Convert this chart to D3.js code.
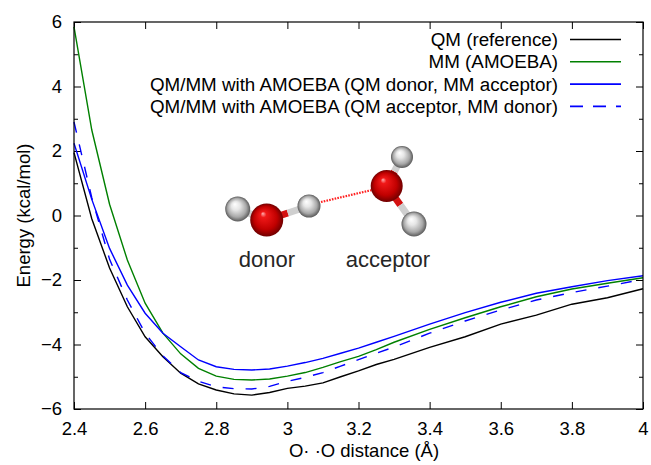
<!DOCTYPE html>
<html>
<head>
<meta charset="utf-8">
<script src="https://cdn.jsdelivr.net/npm/d3@7"></script>
<style>
  body { margin: 0; background: #fff; }
  text { font-family: "Liberation Sans", Arial, sans-serif; }
</style>
</head>
<body>
<svg id="chart" width="651" height="465"></svg>
<script>
// O..O distance (Angstrom)
let distance = [2.4, 2.45, 2.5, 2.55, 2.6, 2.65, 2.7, 2.75, 2.8, 2.85, 2.9, 2.95, 3.0, 3.05,
  3.1, 3.15, 3.2, 3.25, 3.3, 3.4, 3.5, 3.6, 3.7, 3.8, 3.9, 4.0];

// energies (kcal/mol)
let qmRef = [1.95, -0.1, -1.63, -2.83, -3.76, -4.38, -4.89, -5.22, -5.41, -5.53, -5.57, -5.49, -5.36, -5.29,
  -5.19, -5.0, -4.82, -4.62, -4.46, -4.09, -3.76, -3.37, -3.09, -2.75, -2.55, -2.27];
let mmAmoeba = [5.85, 2.65, 0.35, -1.38, -2.72, -3.65, -4.29, -4.74, -4.98, -5.08, -5.10, -5.07, -4.98, -4.87,
  -4.71, -4.53, -4.37, -4.16, -3.93, -3.53, -3.17, -2.83, -2.52, -2.28, -2.10, -1.93];
let qmDonor = [2.24, 0.5, -1.02, -2.16, -3.03, -3.65, -4.07, -4.48, -4.69, -4.77, -4.79, -4.76, -4.67, -4.56,
  -4.43, -4.27, -4.11, -3.93, -3.75, -3.37, -3.01, -2.69, -2.41, -2.21, -2.02, -1.87];
let qmAcceptor = [2.9, 0.55, -1.36, -2.62, -3.65, -4.35, -4.87, -5.14, -5.31, -5.37, -5.38, -5.30, -5.14, -5.02,
  -4.87, -4.67, -4.47, -4.27, -4.08, -3.65, -3.27, -2.93, -2.62, -2.39, -2.19, -1.98];

let seriesNames = ["QM (reference)", "MM (AMOEBA)",
  "QM/MM with AMOEBA (QM donor, MM acceptor)", "QM/MM with AMOEBA (QM acceptor, MM donor)"];
let seriesColors = ["#000000", "#008000", "#0000ff", "#0000ff"];
let seriesDash = [null, null, null, "11,12"];

let xTicks = [2.4, 2.6, 2.8, 3.0, 3.2, 3.4, 3.6, 3.8, 4.0];
let xTickLabels = ["2.4", "2.6", "2.8", "3", "3.2", "3.4", "3.6", "3.8", "4"];
let yTicks = [-6, -4, -2, 0, 2, 4, 6];
let yTickLabels = ["\u22126", "\u22124", "\u22122", "0", "2", "4", "6"];
let yMinorTicks = [-5, -3, -1, 1, 3, 5];

let svg = d3.select("#chart");
let plotLeft = 74, plotRight = 643, plotTop = 22, plotBottom = 409;

let x = d3.scaleLinear().domain([2.4, 4.0]).range([plotLeft, plotRight]);
let y = d3.scaleLinear().domain([-6, 6]).range([plotBottom, plotTop]);

// axes, ticks pointing inward on all four sides
function styleAxis(g) {
  g.select(".domain").remove();
  g.selectAll("line").attr("stroke", "#000").attr("stroke-width", 1);
  g.selectAll("text").attr("font-size", "18.5px").attr("fill", "#000")
    .style("font-family", "'Liberation Sans', Arial, sans-serif");
}

svg.append("g").attr("transform", `translate(0,${plotBottom})`)
  .call(d3.axisBottom(x).tickValues(xTicks).tickFormat((d, i) => xTickLabels[i]).tickSize(-7).tickPadding(12.5))
  .call(styleAxis);
svg.append("g").attr("transform", `translate(0,${plotTop})`)
  .call(d3.axisTop(x).tickValues(xTicks).tickFormat("").tickSize(-7))
  .call(styleAxis);
svg.append("g").attr("transform", `translate(${plotLeft},0)`)
  .call(d3.axisLeft(y).tickValues(yTicks).tickFormat((d, i) => yTickLabels[i]).tickSize(-7).tickPadding(12))
  .call(styleAxis);
svg.append("g").attr("transform", `translate(${plotLeft},0)`)
  .call(d3.axisLeft(y).tickValues(yMinorTicks).tickFormat("").tickSize(-4))
  .call(styleAxis);
svg.append("g").attr("transform", `translate(${plotRight},0)`)
  .call(d3.axisRight(y).tickValues(yTicks).tickFormat("").tickSize(-7))
  .call(styleAxis);
svg.append("g").attr("transform", `translate(${plotRight},0)`)
  .call(d3.axisRight(y).tickValues(yMinorTicks).tickFormat("").tickSize(-4))
  .call(styleAxis);

// axis labels
svg.append("text")
  .attr("x", 364).attr("y", 457)
  .attr("text-anchor", "middle").attr("font-size", "18.5px")
  .text("O\u00b7 \u00b7O distance (\u00c5)");
svg.append("text")
  .attr("transform", "translate(30,215.5) rotate(-90)")
  .attr("text-anchor", "middle").attr("font-size", "18.5px")
  .text("Energy (kcal/mol)");

// water dimer picture
let defs = svg.append("defs");
let redGrad = defs.append("radialGradient").attr("id", "oxy").attr("cx", "0.5").attr("cy", "0.5").attr("r", "0.5")
  .attr("fx", "0.38").attr("fy", "0.3");
redGrad.append("stop").attr("offset", "0%").attr("stop-color", "#ffb0b0");
redGrad.append("stop").attr("offset", "18%").attr("stop-color", "#f01818");
redGrad.append("stop").attr("offset", "70%").attr("stop-color", "#c00000");
redGrad.append("stop").attr("offset", "100%").attr("stop-color", "#700000");
let whiteGrad = defs.append("radialGradient").attr("id", "hyd").attr("cx", "0.5").attr("cy", "0.5").attr("r", "0.5")
  .attr("fx", "0.38").attr("fy", "0.3");
whiteGrad.append("stop").attr("offset", "0%").attr("stop-color", "#ffffff");
whiteGrad.append("stop").attr("offset", "35%").attr("stop-color", "#e6e6e6");
whiteGrad.append("stop").attr("offset", "75%").attr("stop-color", "#a8a8a8");
whiteGrad.append("stop").attr("offset", "100%").attr("stop-color", "#5a5a5a");

let atoms = [
  { name: "Hd1", x: 237.7, y: 209, r: 12.5, fill: "url(#hyd)" },
  { name: "Od", x: 266.7, y: 220, r: 16.5, fill: "url(#oxy)" },
  { name: "Hd2", x: 309, y: 206, r: 11.5, fill: "url(#hyd)" },
  { name: "Ha1", x: 402, y: 157, r: 11, fill: "url(#hyd)" },
  { name: "Ha2", x: 414, y: 224, r: 12.5, fill: "url(#hyd)" },
  { name: "Oa", x: 386.7, y: 186, r: 16, fill: "url(#oxy)" }
];
let atom = {};
atoms.forEach(a => atom[a.name] = a);
let bonds = [["Od", "Hd1"], ["Od", "Hd2"], ["Oa", "Ha1"], ["Oa", "Ha2"]];
let mol = svg.append("g");
bonds.forEach(b => {
  let o = atom[b[0]], h = atom[b[1]];
  let mx = (o.x + h.x) / 2, my = (o.y + h.y) / 2;
  mol.append("line").attr("x1", o.x).attr("y1", o.y).attr("x2", mx).attr("y2", my)
    .attr("stroke", "#d41010").attr("stroke-width", 7);
  mol.append("line").attr("x1", mx).attr("y1", my).attr("x2", h.x).attr("y2", h.y)
    .attr("stroke", "#cfcfcf").attr("stroke-width", 7);
});
// hydrogen bond
mol.append("line").attr("x1", 321).attr("y1", 202).attr("x2", 372).attr("y2", 190)
  .attr("stroke", "#ff2020").attr("stroke-width", 2.2).attr("stroke-dasharray", "1.6,1.2");
mol.selectAll("circle").data(atoms).enter().append("circle")
  .attr("cx", d => d.x).attr("cy", d => d.y).attr("r", d => d.r).attr("fill", d => d.fill);
mol.append("text").attr("x", 267).attr("y", 267).attr("text-anchor", "middle")
  .attr("font-size", "22px").attr("fill", "#262626").text("donor");
mol.append("text").attr("x", 388).attr("y", 267).attr("text-anchor", "middle")
  .attr("font-size", "22px").attr("fill", "#262626").text("acceptor");

// curves
let allSeries = [qmRef, mmAmoeba, qmDonor, qmAcceptor];
let line = d3.line().x((d, i) => x(distance[i])).y(d => y(d));
let plot = svg.append("g");
allSeries.forEach((s, k) => {
  plot.append("path").datum(s)
    .attr("d", line)
    .attr("fill", "none")
    .attr("stroke", seriesColors[k])
    .attr("stroke-width", 1.4)
    .attr("stroke-dasharray", seriesDash[k]);
});

// legend
let legend = svg.append("g");
seriesNames.forEach((name, k) => {
  let base = 46 + k * 22.3;
  legend.append("text").attr("x", 558).attr("y", base)
    .attr("text-anchor", "end").attr("font-size", "18.8px").text(name);
  legend.append("line").attr("x1", 570).attr("x2", 621)
    .attr("y1", base - 6.5).attr("y2", base - 6.5)
    .attr("stroke", seriesColors[k]).attr("stroke-width", 1.6)
    .attr("stroke-dasharray", k === 3 ? "13,10" : null);
});

// frame
svg.append("rect").attr("x", plotLeft).attr("y", plotTop)
  .attr("width", plotRight - plotLeft).attr("height", plotBottom - plotTop)
  .attr("fill", "none").attr("stroke", "#000").attr("stroke-width", 1.2);
</script>
</body>
</html>
